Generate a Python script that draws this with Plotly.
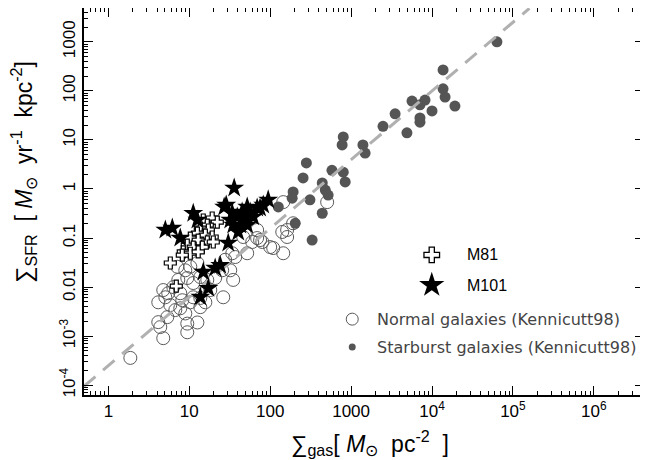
import numpy as np
import plotly.graph_objects as go

# ---- data ----
# Kennicutt98 normal galaxies
normal_gas = [1.87, 4.77, 4.38, 4.14, 5.35, 4.14, 5.06, 5.83, 6.72, 8.2, 7.74, 8.93, 9.45, 9.45,
              12.6, 13.7, 10.3, 11.2, 7.74, 6.35, 5.5, 7.32, 9.45, 11.2, 8.93, 10.3, 12.6, 7.11,
              13.7, 16.7, 20.9, 26.3, 18.2, 13.7, 15.8, 25.5, 34.9, 32.1, 27.8, 37.0, 52.0, 46.4,
              60.0, 69.0, 80.0, 109, 145, 141, 162, 69.0, 145, 506, 192, 162, 100, 75.0, 4.77, 34.0]
normal_sfr = [0.00036, 0.00091, 0.00153, 0.00193, 0.00244, 0.0049, 0.0062, 0.0043, 0.0034, 0.0054,
              0.0037, 0.0029, 0.0018, 0.0012, 0.0019, 0.0039, 0.0049, 0.0062, 0.0075, 0.010, 0.0075,
              0.014, 0.0153, 0.0121, 0.022, 0.026, 0.031, 0.026, 0.016, 0.014, 0.0153, 0.0062,
              0.0087, 0.006, 0.0049, 0.022, 0.014, 0.022, 0.036, 0.041, 0.049, 0.105, 0.083, 0.1,
              0.083, 0.0625, 0.049, 0.133, 0.105, 0.146, 0.54, 0.54, 0.2, 0.146, 0.0655, 0.091,
              0.0087, 0.049]

# Kennicutt98 starburst galaxies
burst_gas = [63400, 13700, 13700, 14500, 19200, 10000, 5660, 7100, 8200, 7100, 4900, 3500, 2480,
             1400, 1490, 800, 775, 845, 800, 580, 440, 480, 520, 440, 280, 255, 310, 192, 187, 126,
             204, 330, 7100]
burst_sfr = [1000, 268, 110, 75, 49, 39, 62, 52, 65, 23, 14, 34, 19, 7.9, 5.4, 11.5, 7.9, 1.39,
             2.2, 2.4, 1.33, 0.95, 0.75, 0.32, 3.4, 1.68, 0.6, 0.87, 0.65, 0.43, 0.2, 0.091, 28]

# M81
m81_gas = [5.83, 6.91, 14.9, 19.2, 22.2, 16.7, 13.7, 17.2, 12.6, 15.8, 19.2, 10.3, 12.9, 16.7,
           9.45, 11.2, 14.5, 8.43, 10.3, 12.9, 8.2, 19.8]
m81_sfr = [0.031, 0.0105, 0.233, 0.256, 0.212, 0.184, 0.16, 0.146, 0.126, 0.115, 0.105, 0.1,
           0.091, 0.083, 0.072, 0.0655, 0.0655, 0.052, 0.049, 0.052, 0.045, 0.083]

# M101
m101_gas = [35.9, 28.6, 27.0, 11.2, 12.6, 5.06, 6.17, 7.74, 94.5, 82.0, 52.0, 45.0, 56.6, 69.0,
            61.7, 49.0, 39.2, 32.1, 34.9, 42.7, 52.0, 40.3, 30.3, 34.0, 24.1, 20.9, 14.9, 17.2,
            13.7, 75.0]
m101_sfr = [1.05, 0.47, 0.43, 0.32, 0.233, 0.146, 0.16, 0.1, 0.6, 0.47, 0.43, 0.34, 0.34, 0.41,
            0.27, 0.256, 0.27, 0.233, 0.184, 0.184, 0.184, 0.133, 0.079, 0.32, 0.028, 0.0244,
            0.0202, 0.0095, 0.00625, 0.41]

# Kennicutt (1998) law
ks_gas = np.logspace(np.log10(0.5), np.log10(1.6e5), 200)
ks_sfr = 2.5e-4 * ks_gas ** 1.4

x_tickvals = [1, 10, 100, 1000, 1e4, 1e5, 1e6]
x_ticktext = ["1", "10", "100", "1000", "10<sup>4</sup>", "10<sup>5</sup>", "10<sup>6</sup>"]
y_tickvals = [1e-4, 1e-3, 0.01, 0.1, 1, 10, 100, 1000]
y_ticktext = ["10<sup>-4</sup>", "10<sup>-3</sup>", "0.01", "0.1", "1", "10", "100", "1000"]

FONT = "Liberation Sans, Arial, sans-serif"
LEGFONT = "DejaVu Sans, sans-serif"

fig = go.Figure()

fig.add_trace(go.Scatter(x=normal_gas, y=normal_sfr, mode="markers",
                         marker=dict(symbol="circle-open", size=13, color="#5a5a5a",
                                     line=dict(width=1, color="#5a5a5a"))))
fig.add_trace(go.Scatter(x=burst_gas, y=burst_sfr, mode="markers",
                         marker=dict(symbol="circle", size=11, color="#555555",
                                     line=dict(width=0))))
fig.add_trace(go.Scatter(x=ks_gas, y=ks_sfr, mode="lines",
                         line=dict(color="#b0b0b0", width=3, dash="15px,10px")))
fig.add_trace(go.Scatter(x=m81_gas, y=m81_sfr, mode="markers",
                         marker=dict(symbol="cross", size=10, color="white",
                                     line=dict(width=1.2, color="black"))))
fig.add_trace(go.Scatter(x=m101_gas, y=m101_sfr, mode="markers",
                         marker=dict(symbol="star", size=15, color="black",
                                     line=dict(width=0))))

# legend keys (paper-like overlay axes)
fig.add_trace(go.Scatter(x=[0.621], y=[0.362], xaxis="x2", yaxis="y2", mode="markers",
                         marker=dict(symbol="cross", size=13, color="white",
                                     line=dict(width=1.3, color="black"))))
fig.add_trace(go.Scatter(x=[0.621], y=[0.284], xaxis="x2", yaxis="y2", mode="markers",
                         marker=dict(symbol="star", size=19, color="black", line=dict(width=0))))
fig.add_trace(go.Scatter(x=[0.479], y=[0.196], xaxis="x2", yaxis="y2", mode="markers",
                         marker=dict(symbol="circle-open", size=12, color="#5a5a5a",
                                     line=dict(width=1, color="#5a5a5a"))))
fig.add_trace(go.Scatter(x=[0.479], y=[0.124], xaxis="x2", yaxis="y2", mode="markers",
                         marker=dict(symbol="circle", size=7, color="#555555")))

labels = [("M81", 0.680, 0.362, FONT, 16, "black"), ("M101", 0.680, 0.284, FONT, 16, "black"),
          ("Normal galaxies (Kennicutt98)", 0.520, 0.196, LEGFONT, 16, "#444444"),
          ("Starburst galaxies (Kennicutt98)", 0.520, 0.124, LEGFONT, 16, "#444444")]
for txt, lx, ly, fnt, fs, col in labels:
    fig.add_annotation(x=lx, y=ly, xref="paper", yref="paper", text=txt, showarrow=False,
                       xanchor="left", yanchor="middle",
                       font=dict(family=fnt, size=fs, color=col))

# axis titles
fig.add_annotation(x=0.51, y=-0.124, xref="paper", yref="paper", showarrow=False,
                   text="∑<sub>gas</sub>[ <i>M</i><sub>⊙</sub>  pc<sup>-2</sup>  ]",
                   xanchor="center", yanchor="middle",
                   font=dict(family=FONT, size=23, color="black"))
fig.add_annotation(x=-0.108, y=0.575, xref="paper", yref="paper", showarrow=False,
                   text="∑<sub>SFR</sub>  [ <i>M</i><sub>⊙</sub>  yr<sup>-1</sup>  kpc<sup>-2</sup>]",
                   textangle=-90, xanchor="center", yanchor="middle",
                   font=dict(family=FONT, size=23, color="black"))

axis_common = dict(showline=True, linecolor="black", linewidth=1.6, mirror="allticks",
                   ticks="inside", ticklen=9, tickwidth=1.2, tickcolor="black",
                   showgrid=False, zeroline=False, automargin=False,
                   minor=dict(tickmode="linear", dtick="D1", ticks="inside", ticklen=4,
                              tickwidth=1, tickcolor="black", showgrid=False),
                   tickfont=dict(family=FONT, size=17, color="black"))

# page body has an 8px margin, so the figure is 8px smaller and shifted
fig.update_layout(
    width=640, height=452,
    margin=dict(l=76, r=4, t=0, b=65),
    paper_bgcolor="white", plot_bgcolor="white",
    showlegend=False,
    xaxis=dict(type="log", range=[np.log10(0.5), 6.62], tickvals=x_tickvals,
               ticktext=x_ticktext, **axis_common),
    yaxis=dict(type="log", range=[-4.2, 3.69], tickvals=y_tickvals, ticktext=y_ticktext,
               tickangle=-90, **axis_common),
    xaxis2=dict(range=[0, 1], overlaying="x", visible=False),
    yaxis2=dict(range=[0, 1], overlaying="y", visible=False),
)

fig.write_html("out.html")
